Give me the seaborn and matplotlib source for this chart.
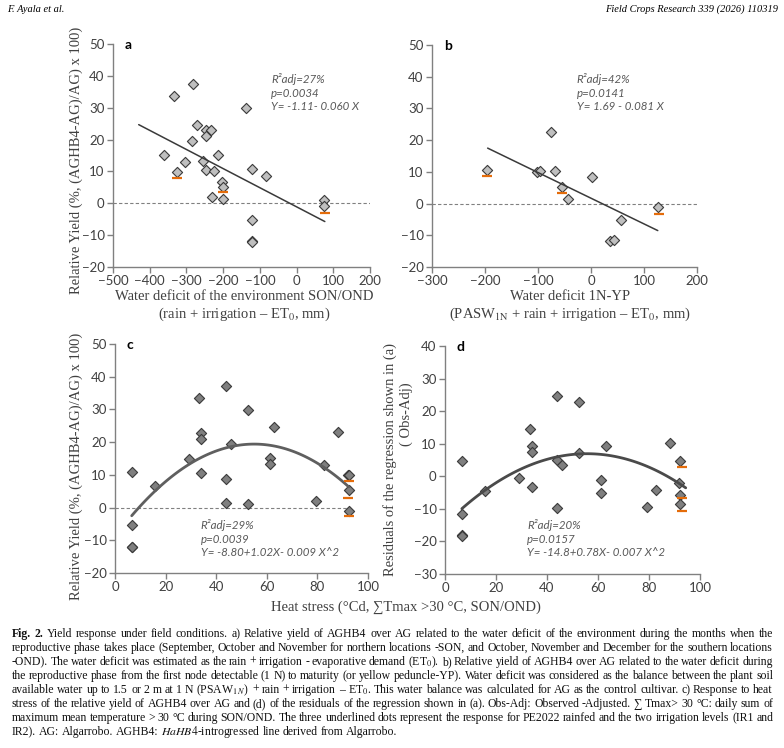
import numpy as np
import matplotlib
matplotlib.use('Agg')
import matplotlib.pyplot as plt
import seaborn as sns

# ---- data ----
# a) relative yield vs water deficit of the environment (SON/OND)
wd_env = [-335, -281, -139, -272, -248, -234, -247, -284, -360, -213, -304, -256,
          -326, -247, -224, -121, -84, -202, -200, -230, -201, -121, -121, -121, 76, 76]
ry_a = [33.6, 37.5, 29.9, 24.6, 23.0, 23.0, 21.2, 19.4, 15.3, 15.3, 13.1, 13.2,
        9.9, 10.5, 10.2, 10.8, 8.6, 6.6, 5.2, 2.1, 1.4, -5.4, -11.9, -12.2, 1.0, -1.0]
under_a_x = [-326, -200, 77]
under_a_y = [7.9, 3.5, -2.9]
coef_a = [-1.11, -0.060]
range_a = [-430, 77]

# b) relative yield vs water deficit 1N-YP
wd_1nyp = [-75, -196, -101, -96, -67, 1, -55, -43, 126, 57, 36, 44]
ry_b = [22.7, 10.7, 9.8, 10.4, 10.4, 8.4, 5.1, 1.5, -1.0, -5.2, -11.9, -11.5]
under_b_x = [-196, -55, 128]
under_b_y = [8.6, 3.2, -3.2]
coef_b = [1.69, -0.081]
range_b = [-195, 126]

# c) relative yield vs heat stress
heat_c = [6.6, 6.6, 6.6, 6.6, 15.9, 29.2, 33.2, 34.1, 34.1, 34.1, 44.0, 44.0, 44.0,
          45.8, 52.5, 52.5, 61.1, 61.2, 63.0, 79.4, 82.5, 88.3, 91.9, 92.4, 92.4, 92.4]
ry_c = [11.0, -5.3, -11.9, -12.2, 6.5, 15.0, 33.5, 22.9, 21.0, 10.5, 37.3, 8.6, 1.4,
        19.3, 29.9, 1.0, 15.2, 13.2, 24.5, 2.1, 13.0, 23.0, 10.0, 10.1, 5.3, -0.9]
under_c_x = [92.4, 92.2, 92.4]
under_c_y = [8.2, 3.0, -2.6]
coef_c = [-8.88, 1.0285, -0.00935]
range_c = [6.6, 92.4]
zero_c = [0, 93]

# d) residuals of regression (a) vs heat stress
heat_d = [6.6, 6.6, 6.6, 6.6, 15.7, 29.2, 33.2, 34.2, 34.2, 34.2, 43.9, 43.9, 43.9,
          45.7, 52.6, 52.6, 61.2, 61.0, 63.2, 79.3, 82.6, 88.2, 92.1, 91.9, 92.1, 92.1]
res_d = [4.8, -11.5, -18.0, -18.2, -4.5, -0.5, 14.5, 9.3, 7.5, -3.2, 24.7, 4.9, -9.6,
         3.4, 22.9, 7.0, -1.0, -5.1, 9.3, -9.5, -4.2, 10.2, 4.8, -2.2, -5.6, -8.6]
under_d_x = [92.8, 93.0, 93.0]
under_d_y = [3.0, -6.7, -10.7]
coef_d = [-14.8, 0.78, -0.007]
range_d = [6.6, 94.4]

stats_a = 'R²adj=27%\np=0.0034\nY= -1.11- 0.060 X'
stats_b = 'R²adj=42%\np=0.0141\nY= 1.69 - 0.081 X'
stats_c = 'R²adj=29%\np=0.0039\nY= -8.80+1.02X- 0.009 X^2'
stats_d = 'R²adj=20%\np=0.0157\nY= -14.8+0.78X- 0.007 X^2'

caption_lines = [
    "Fig. 2. Yield response under field conditions. a) Relative yield of AGHB4 over AG related to the water deficit of the environment during the months when the",
    "reproductive phase takes place (September, October and November for northern locations -SON, and October, November and December for the southern locations",
    "-OND). The water deficit was estimated as the rain + irrigation - evaporative demand (ET$_0$). b) Relative yield of AGHB4 over AG related to the water deficit during",
    "the reproductive phase from the first node detectable (1 N) to maturity (or yellow peduncle-YP). Water deficit was considered as the balance between the plant soil",
    "available water up to 1.5 or 2 m at 1 N (PSAW$_{1\\,N}$) + rain + irrigation – ET$_0$. This water balance was calculated for AG as the control cultivar. c) Response to heat",
    "stress of the relative yield of AGHB4 over AG and (d) of the residuals of the regression shown in (a). Obs-Adj: Observed -Adjusted. ∑ Tmax> 30 °C: daily sum of",
    "maximum mean temperature > 30 °C during SON/OND. The three underlined dots represent the response for PE2022 rainfed and the two irrigation levels (IR1 and",
    "IR2). AG: Algarrobo. AGHB4: $\\mathit{HaHB4}$-introgressed line derived from Algarrobo.",
]

# ---- figure ----
sns.set_theme(style='ticks')
plt.rcParams['font.family'] = ['Lato', 'DejaVu Sans']
plt.rcParams['mathtext.fontset'] = 'stix'
SERIF = ['Liberation Serif', 'DejaVu Serif']

W, H = 784, 748
fig = plt.figure(figsize=(W / 100, H / 100), dpi=100)


def box(l, t, r, b):
    return [l / W, 1 - b / H, (r - l) / W, (b - t) / H]


ax_a = fig.add_axes(box(113, 44, 370, 267))
ax_b = fig.add_axes(box(432, 45, 697, 267))
ax_c = fig.add_axes(box(115, 344, 368, 573))
ax_d = fig.add_axes(box(445, 346, 700, 574))


def style(ax, xlim, xstep, ylim):
    ax.set_xlim(xlim)
    ax.set_ylim(ylim)
    ax.set_xticks(np.arange(xlim[0], xlim[1] + 1, xstep))
    ax.set_yticks(np.arange(ylim[0], ylim[1] + 1, 10))
    for s in ['top', 'right']:
        ax.spines[s].set_visible(False)
    for s in ['left', 'bottom']:
        ax.spines[s].set_color('#808080')
        ax.spines[s].set_linewidth(1.0)
    ax.tick_params(direction='out', length=4, width=1, color='#808080',
                   labelsize=9.5, labelcolor='#404040', pad=2)
    ax.set_xlabel('')
    ax.set_ylabel('')


def panel(ax, x, y, ux, uy, coef, xr, fill, lc, lw, stats, sx, sy, letter):
    sns.scatterplot(x=x, y=y, marker='D', s=27, color=fill, edgecolor='#3a3a3a',
                    linewidth=0.8, ax=ax, zorder=3)
    xs = np.linspace(xr[0], xr[1], 100)
    ys = sum(c * xs ** i for i, c in enumerate(coef))
    sns.lineplot(x=xs, y=ys, color=lc, lw=lw, ax=ax, zorder=4)
    ax.plot(ux, uy, ls='none', marker='_', ms=7, mew=1.6, color='#e46c0a', zorder=5)
    ax.text(sx, sy, stats, transform=ax.transAxes, ha='left', va='top', fontsize=8.3,
            style='italic', color='#595959', linespacing=1.25)
    ax.text(0.06, 0.995, letter, transform=ax.transAxes, ha='center', va='center',
            fontsize=10, fontweight='bold', color='black')


panel(ax_a, wd_env, ry_a, under_a_x, under_a_y, coef_a, range_a, '#bfbfbf', '#3a3a3a', 1.1,
      stats_a, 0.615, 0.868, 'a')
ax_a.axhline(0, color='#808080', ls=(0, (3, 2)), lw=0.8, zorder=1)
style(ax_a, (-500, 200), 100, (-20, 50))

panel(ax_b, wd_1nyp, ry_b, under_b_x, under_b_y, coef_b, range_b, '#bfbfbf', '#3a3a3a', 1.1,
      stats_b, 0.546, 0.872, 'b')
ax_b.axhline(0, color='#808080', ls=(0, (3, 2)), lw=0.8, zorder=1)
style(ax_b, (-300, 200), 100, (-20, 50))

panel(ax_c, heat_c, ry_c, under_c_x, under_c_y, coef_c, range_c, '#7f7f7f', '#5f5f5f', 2.0,
      stats_c, 0.339, 0.234, 'c')
ax_c.plot(zero_c, [0, 0], color='#808080', ls=(0, (3, 2)), lw=0.8, zorder=1)
style(ax_c, (0, 100), 20, (-20, 50))

panel(ax_d, heat_d, res_d, under_d_x, under_d_y, coef_d, range_d, '#7f7f7f', '#4a4a4a', 2.0,
      stats_d, 0.323, 0.240, 'd')
style(ax_d, (0, 100), 20, (-30, 40))

# axis titles
lab = dict(family=SERIF, fontsize=10.5, color='#404040', ha='center', va='center')
ylab = 'Relative Yield (%, (AGHB4-AG)/AG) x 100)'
fig.text(76 / W, 1 - 160 / H, ylab, rotation=90, **lab)
fig.text(76 / W, 1 - 466 / H, ylab, rotation=90, **lab)
fig.text(390 / W, 1 - 460 / H, 'Residuals of the regression shown in (a)', rotation=90, **lab)
fig.text(406 / W, 1 - 414 / H, '( Obs-Adj)', rotation=90, **lab)
fig.text(244 / W, 1 - 297 / H, 'Water deficit of the environment SON/OND', **lab)
fig.text(244 / W, 1 - 314 / H, '(rain + irrigation – ET$_0$, mm)', **lab)
fig.text(570 / W, 1 - 297 / H, 'Water deficit 1N-YP', **lab)
fig.text(570 / W, 1 - 314 / H, '(PASW$_{\\mathrm{1N}}$ + rain + irrigation – ET$_0$, mm)', **lab)
fig.text(406 / W, 1 - 607 / H, 'Heat stress (°Cd, ∑Tmax >30 °C, SON/OND)', **lab)

# running header
fig.text(7 / W, 1 - 9 / H, 'F. Ayala et al.', family=SERIF, style='italic', fontsize=7.5,
         ha='left', va='center', color='black')
fig.text(778 / W, 1 - 9 / H, 'Field Crops Research 339 (2026) 110319', family=SERIF,
         style='italic', fontsize=7.5, ha='right', va='center', color='black')

# justified caption
renderer = fig.canvas.get_renderer()
x0, x1 = 12, 773
cap_size = 8.45
for i, line in enumerate(caption_lines):
    y = 1 - (634 + 14 * i) / H
    words = line.split(' ')
    items = []
    for j, w in enumerate(words):
        weight = 'bold' if (i == 0 and j < 2) else 'normal'
        t = fig.text(0, y, w, family=SERIF, fontsize=cap_size, fontweight=weight,
                     ha='left', va='center', color='#111111')
        items.append((t, t.get_window_extent(renderer).width))
    total = sum(wd for _, wd in items)
    natural = cap_size * 100 / 72 * 0.22
    if i < len(caption_lines) - 1 and len(items) > 1:
        gap = max((x1 - x0 - total) / (len(items) - 1), 1.5)
    else:
        gap = natural
    x = x0
    for t, wd in items:
        t.set_x(x / W)
        x += wd + gap

fig.savefig('out.png', dpi=100)
